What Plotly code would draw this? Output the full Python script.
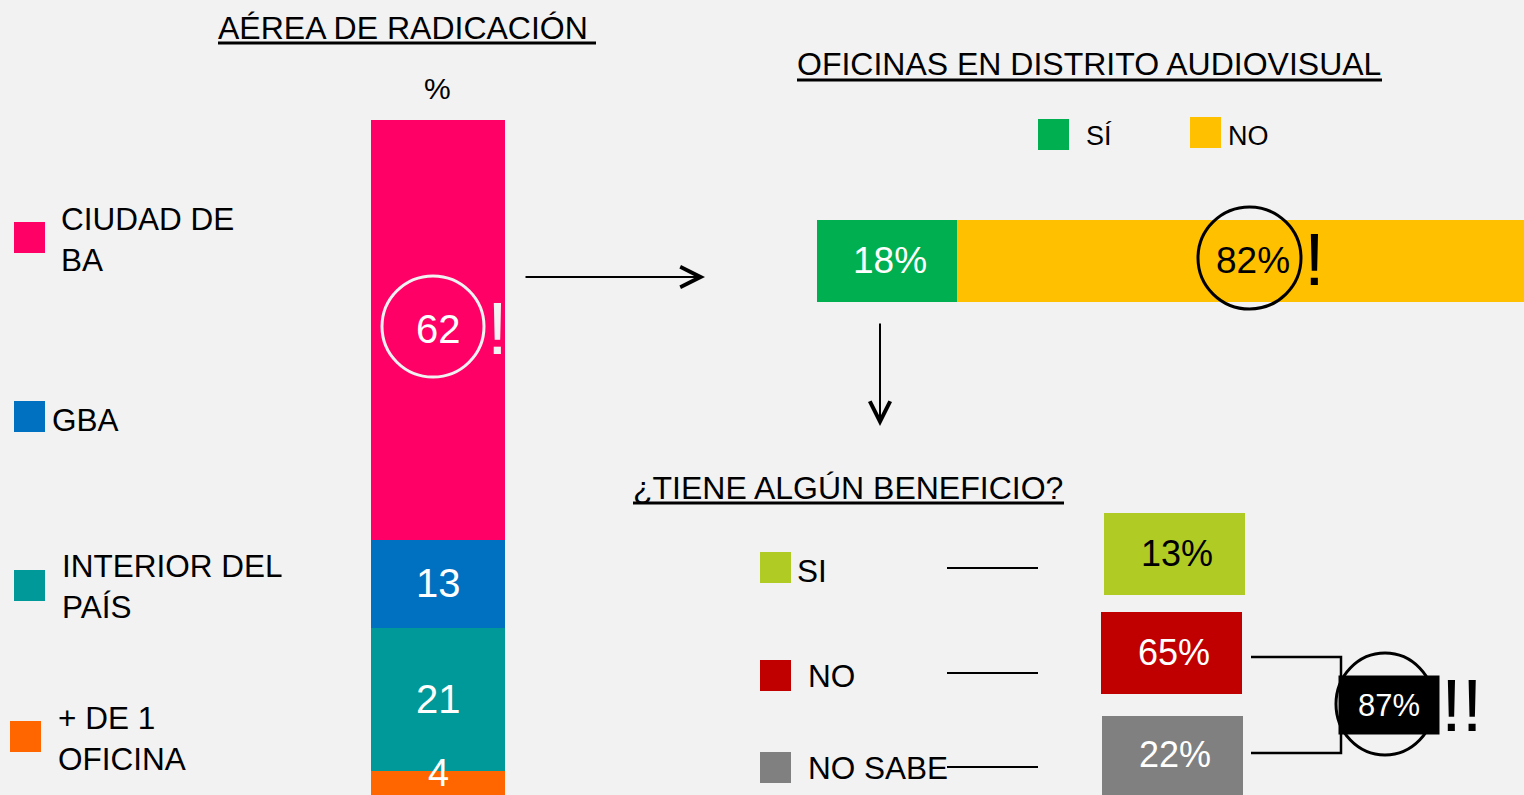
import plotly.graph_objects as go

W, H = 1524, 795
BG = "#f2f2f2"
FONT = "Liberation Sans, Arial, sans-serif"

# ---------------- data ----------------
radicacion_labels = ["CIUDAD DE<br>BA", "GBA", "INTERIOR DEL<br>PAÍS", "+ DE 1<br>OFICINA"]
radicacion_values = [62, 13, 21, 4]
radicacion_colors = ["#ff0066", "#0070c0", "#009999", "#ff6600"]

oficinas_labels = ["SÍ", "NO"]
oficinas_values = [18, 82]
oficinas_colors = ["#00b050", "#ffc000"]
oficinas_textcolors = ["white", "black"]

beneficio_labels = ["SI", "NO", "NO SABE"]
beneficio_values = [13, 65, 22]
beneficio_colors = ["#b0cb24", "#c00000", "#808080"]
beneficio_textcolors = ["black", "white", "white"]

titles = ["AÉREA DE RADICACIÓN ", "OFICINAS EN DISTRITO AUDIOVISUAL", "¿TIENE ALGÚN BENEFICIO?"]

X2_MAX = 90.9  # visible extent of the horizontal bar axis


def px(x):
    return x / W


def py(y):
    return 1 - y / H


fig = go.Figure()
shapes = []
annots = []

# ---------------- vertical stacked bar ----------------
stack = list(zip(radicacion_labels, radicacion_values, radicacion_colors))[::-1]
base = 0
for lab, val, col in stack:
    fig.add_trace(go.Bar(
        x=["%"], y=[val], name=lab.replace("<br>", " "),
        marker=dict(color=col, line=dict(width=0)),
        xaxis="x", yaxis="y", showlegend=False, hoverinfo="skip",
    ))
    small = val < 6
    annots.append(dict(x=0, y=base + val / 2, xref="x", yref="y", text=str(val), showarrow=False,
                       font=dict(family=FONT, size=38 if small else 40, color="white"),
                       yshift=11 if small else 1))
    base += val

# ---------------- horizontal stacked bar ----------------
base = 0
for lab, val, col, tc in zip(oficinas_labels, oficinas_values, oficinas_colors, oficinas_textcolors):
    fig.add_trace(go.Bar(
        y=["of"], x=[val], orientation="h", name=lab,
        marker=dict(color=col, line=dict(width=0)),
        xaxis="x2", yaxis="y2", showlegend=False, hoverinfo="skip",
    ))
    end = min(base + val, X2_MAX)
    annots.append(dict(x=(base + end) / 2, y=0, xref="x2", yref="y2", text=f"{val}%", showarrow=False,
                       font=dict(family=FONT, size=37, color=tc),
                       xshift=3 if base == 0 else 12))
    base += val


def text(x, y, s, size, color="black", xanchor="center", yanchor="middle", align="center", **kw):
    annots.append(dict(x=px(x), y=py(y), xref="paper", yref="paper", text=s, showarrow=False,
                       font=dict(family=FONT, size=size, color=color),
                       xanchor=xanchor, yanchor=yanchor, align=align, **kw))


def rect(x0, y0, x1, y1, color):
    shapes.append(dict(type="rect", xref="paper", yref="paper", x0=px(x0), x1=px(x1),
                       y0=py(y1), y1=py(y0), fillcolor=color, line=dict(width=0), layer="above"))


def line(x0, y0, x1, y1, color="black", width=2):
    shapes.append(dict(type="line", xref="paper", yref="paper", x0=px(x0), x1=px(x1),
                       y0=py(y0), y1=py(y1), line=dict(color=color, width=width), layer="above"))


def circle(x0, y0, x1, y1, color, width=3):
    shapes.append(dict(type="circle", xref="paper", yref="paper", x0=px(x0), x1=px(x1),
                       y0=py(y1), y1=py(y0), line=dict(color=color, width=width),
                       fillcolor="rgba(0,0,0,0)", layer="above"))


# ---------------- titles ----------------
title_pos = [(216, 28, 596, 43), (795, 64, 1382, 80), (631, 488, 1064, 503)]
for t, (x, y, xe, yu) in zip(titles, title_pos):
    text(x, y, t, 32, xanchor="left")
    line(x + 2, yu, xe, yu, width=3)

text(437, 89, "%", 30)

# ---------------- left legend ----------------
leg1_sq = [(14, 222), (14, 401), (14, 570), (10, 721)]
leg1_txt = [(59, 240), (50, 420), (60, 586), (56, 738)]
for lab, col, (sx, sy), (tx, ty) in zip(radicacion_labels, radicacion_colors, leg1_sq, leg1_txt):
    rect(sx, sy, sx + 31, sy + 31, col)
    text(tx, ty, lab, 31.5, xanchor="left", align="left")

# circle + "!" on the main segment
circle(382, 276, 484, 377, "#f2f2f2")
text(498, 328, "!", 75, color="#f2f2f2")

# arrow to the right
annots.append(dict(x=px(705), y=py(277), xref="paper", yref="paper", text="", showarrow=True,
                   ax=-181, ay=0, arrowhead=5, arrowsize=2, arrowwidth=2, arrowcolor="black"))

# ---------------- oficinas legend ----------------
leg2_sq = [(1038, 119), (1190, 117)]
leg2_txt = [(1084, 136), (1226, 136)]
for lab, col, (sx, sy), (tx, ty) in zip(oficinas_labels, oficinas_colors, leg2_sq, leg2_txt):
    rect(sx, sy, sx + 31, sy + 31, col)
    text(tx, ty, lab, 27, xanchor="left")

circle(1198, 207, 1301, 309, "black")
text(1314, 259, "!", 75)

# arrow down
annots.append(dict(x=px(880), y=py(426), xref="paper", yref="paper", text="", showarrow=True,
                   ax=0, ay=-104, arrowhead=5, arrowsize=2, arrowwidth=2, arrowcolor="black"))

# ---------------- beneficio ----------------
leg3_sq = [(760, 552), (760, 660), (760, 752)]
leg3_txt = [(795, 571), (806, 676), (806, 768)]
leg3_line = [568, 673, 767]
box_pos = [(1104, 513, 1245, 595), (1101, 612, 1242, 694), (1102, 716, 1243, 795)]
for lab, val, col, tc, (sx, sy), (tx, ty), ly, (bx0, by0, bx1, by1) in zip(
        beneficio_labels, beneficio_values, beneficio_colors, beneficio_textcolors,
        leg3_sq, leg3_txt, leg3_line, box_pos):
    rect(sx, sy, sx + 31, sy + 31, col)
    text(tx, ty, lab, 31.5, xanchor="left")
    line(947, ly, 1038, ly, width=2)
    rect(bx0, by0, bx1, by1, col)
    text((bx0 + bx1) / 2 + 2, (by0 + by1) / 2 - 1, f"{val}%", 36, color=tc)

# bracket joining NO + NO SABE
shapes.append(dict(type="path", xref="paper", yref="paper",
                   path=f"M {px(1251)},{py(657)} L {px(1341)},{py(657)} L {px(1341)},{py(753)} L {px(1251)},{py(753)}",
                   line=dict(color="black", width=2.5), layer="above"))
circle(1336, 653, 1434, 755, "black")
total_no = beneficio_values[1] + beneficio_values[2]
text(1389, 705, f"{total_no}%", 31, color="white", bgcolor="black", width=100, height=58,
     borderpad=0, valign="middle")
text(1462, 705, "!!", 75)

fig.update_layout(
    width=W, height=H, margin=dict(l=0, r=0, t=0, b=0, pad=0),
    paper_bgcolor=BG, plot_bgcolor=BG,
    barmode="stack", bargap=0, showlegend=False,
    xaxis=dict(domain=[px(371), px(505)], visible=False, fixedrange=True),
    yaxis=dict(domain=[0, 1], range=[0.44, 117.7], visible=False, fixedrange=True),
    xaxis2=dict(domain=[px(817), 1], range=[0, X2_MAX], visible=False, anchor="y2", fixedrange=True),
    yaxis2=dict(domain=[py(302), py(220)], visible=False, anchor="x2", fixedrange=True),
    shapes=shapes, annotations=annots,
)

fig.write_html("out.html", config={"displayModeBar": False},
               post_script="document.body.style.margin='0';document.body.style.overflow='hidden';")
